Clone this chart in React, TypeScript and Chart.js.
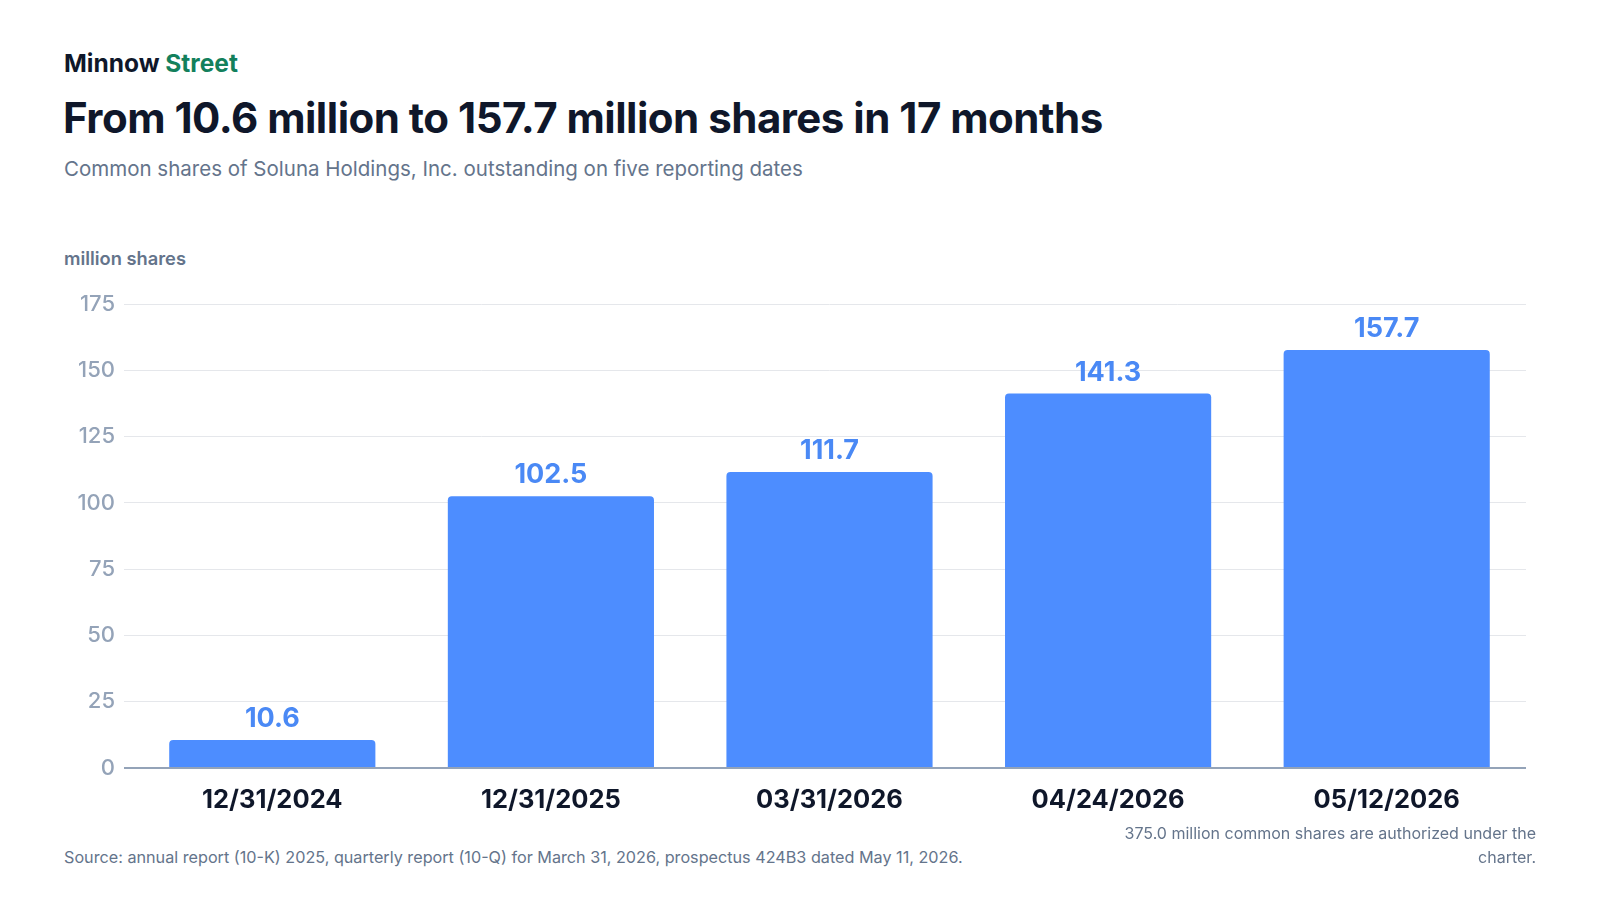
import React, { useEffect, useRef } from "react";
import { Chart, registerables } from "chart.js";

Chart.register(...registerables);

const categories = ["12/31/2024", "12/31/2025", "03/31/2026", "04/24/2026", "05/12/2026"];
const sharesMillions = [10.6, 102.5, 111.7, 141.3, 157.7];
const valueLabels = ["10.6", "102.5", "111.7", "141.3", "157.7"];
const yTicks = [0, 25, 50, 75, 100, 125, 150, 175];

const FONT = "Inter, 'Noto Sans', sans-serif";
const BAR = "#4d8dff";
const LABEL = "#4a89f5";

const valueLabelPlugin = {
  id: "valueLabels",
  afterDatasetsDraw(chart: any) {
    const ctx = chart.ctx;
    const meta = chart.getDatasetMeta(0);
    ctx.save();
    ctx.font = `700 27px ${FONT}`;
    ctx.fillStyle = LABEL;
    ctx.textAlign = "center";
    ctx.textBaseline = "middle";
    meta.data.forEach((el: any, i: number) => {
      ctx.fillText(valueLabels[i], el.x, el.y - 21);
    });
    ctx.restore();
  },
};

export default function App() {
  const ref = useRef<HTMLCanvasElement | null>(null);

  useEffect(() => {
    if (!ref.current) return;
    const chart = new Chart(ref.current, {
      type: "bar",
      data: {
        labels: categories,
        datasets: [
          {
            data: sharesMillions,
            backgroundColor: BAR,
            borderRadius: 4,
            borderSkipped: "start",
            barPercentage: 0.74,
            categoryPercentage: 1,
          },
        ],
      },
      options: {
        animation: false,
        responsive: false,
        devicePixelRatio: 1,
        layout: { padding: { top: 16, right: 10, left: 0, bottom: 0 } },
        plugins: {
          legend: { display: false },
          tooltip: { enabled: false },
        },
        scales: {
          x: {
            grid: { display: false, drawTicks: false },
            border: { display: false },
            ticks: {
              color: "#0f172a",
              font: { family: FONT, size: 25.5, weight: "bold" },
              padding: 17,
            },
            afterFit(s: any) {
              s.height = 57;
            },
          },
          y: {
            min: 0,
            max: 175,
            afterBuildTicks(s: any) {
              s.ticks = yTicks.map((v) => ({ value: v }));
            },
            grid: {
              color: (c: any) => (c.tick && c.tick.value === 0 ? "#94a3b8" : "#e5e7eb"),
              lineWidth: (c: any) => (c.tick && c.tick.value === 0 ? 2 : 1),
              drawTicks: true,
              tickLength: 9,
            },
            border: { display: false },
            ticks: {
              color: "#94a3b8",
              font: { family: FONT, size: 22, weight: "500" },
              padding: 9,
            },
            afterFit(s: any) {
              s.width = 69;
            },
          },
        },
      },
      plugins: [valueLabelPlugin],
    });
    return () => chart.destroy();
  }, []);

  const base: React.CSSProperties = { position: "absolute", fontFamily: FONT, whiteSpace: "nowrap", margin: 0 };

  return (
    <div style={{ position: "fixed", left: 0, top: 0, width: 1600, height: 900, background: "#ffffff", overflow: "hidden" }}>
      <div style={{ ...base, left: 64, top: 48, fontSize: 24.5, lineHeight: "30px", fontWeight: 700, color: "#0f172a" }}>
        Minnow <span style={{ color: "#13805c" }}>Street</span>
      </div>
      <div style={{ ...base, left: 63, top: 93, fontSize: 42, lineHeight: "50px", fontWeight: 700, color: "#0f172a", letterSpacing: "-0.5px" }}>
        From 10.6 million to 157.7 million shares in 17 months
      </div>
      <div style={{ ...base, left: 64, top: 156, fontSize: 20.5, lineHeight: "26px", color: "#64748b" }}>
        Common shares of Soluna Holdings, Inc. outstanding on five reporting dates
      </div>
      <div style={{ ...base, left: 64, top: 246, fontSize: 18.3, lineHeight: "24px", fontWeight: 600, color: "#64748b" }}>
        million shares
      </div>
      <canvas ref={ref} width={1472} height={543} style={{ position: "absolute", left: 64, top: 282, width: 1472, height: 543 }} />
      <div style={{ ...base, left: 64, top: 846, fontSize: 16.2, lineHeight: "22px", color: "#64748b" }}>
        Source: annual report (10-K) 2025, quarterly report (10-Q) for March 31, 2026, prospectus 424B3 dated May 11, 2026.
      </div>
      <div style={{ ...base, right: 64, top: 821, width: 420, whiteSpace: "normal", textAlign: "right", fontSize: 16, lineHeight: "24px", color: "#64748b" }}>
        375.0 million common shares are authorized under the charter.
      </div>
    </div>
  );
}
